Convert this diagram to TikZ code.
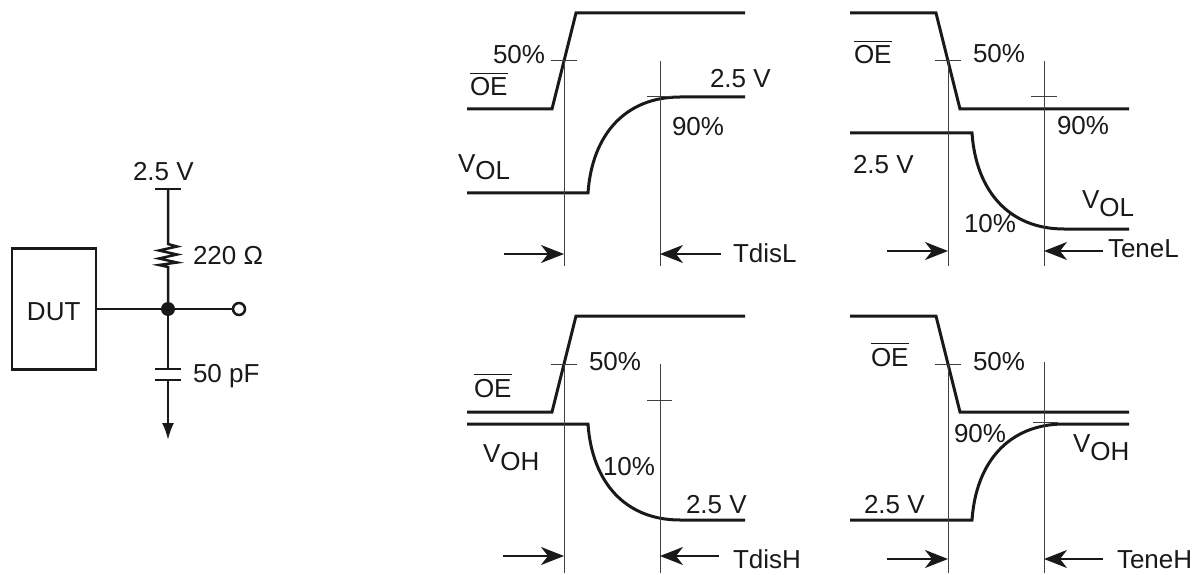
\documentclass[tikz,border=0pt]{standalone}
\usepackage{fontspec}
\setmainfont{Liberation Sans}
\usetikzlibrary{arrows.meta}
\newcommand{\oebar}{\vbox{\hrule height 1.2pt\kern 4pt\hbox{OE}}}
\tikzset{
	wave/.style={line width=3pt,line join=miter,color=black!90},
	wire/.style={line width=2.5pt,color=black!90},
	guide/.style={line width=1pt,color=black!75},
	dimarrow/.style={line width=2pt,color=black!90,-{Stealth[length=23pt,width=18pt,inset=7pt]}},
	lbl/.style={anchor=base west,inner sep=0pt,outer sep=0pt,text=black!90,font=\fontsize{26}{30}\selectfont},
	dutbox/.style={draw=black!90,line width=2.5pt,minimum width=84pt,minimum height=121pt,inner sep=0pt,outer sep=0pt},
	junction/.style={circle,fill=black!90,minimum size=14pt,inner sep=0pt,outer sep=0pt},
	pin/.style={circle,draw=black!90,line width=2.5pt,fill=white,minimum size=12pt,inner sep=0pt,outer sep=0pt}
}
\begin{document}
\begin{tikzpicture}[x=1pt,y=-1pt]
	\useasboundingbox (0,0) rectangle (1200,575);
	\node [dutbox] (dut) at (54,309) {};
	\node [lbl] (dutlabel) at (27,320) {DUT};
	\node [junction] (node) at (168,309) {};
	\node [pin] (out) at (239,309) {};
	\coordinate (vcc) at (168,189);
	\coordinate (vccl) at (155,189);
	\coordinate (vccr) at (181,189);
	\coordinate (rtop) at (168,244);
	\coordinate (rbot) at (168,267);
	\coordinate (ctop) at (168,369);
	\coordinate (cbot) at (168,380);
	\coordinate (gnd) at (168,440);
	\draw [wire] (dut) -- (node);
	\draw [wire] (node) -- (out);
	\draw [wire] (vccl) -- (vccr);
	\draw [wire] (vcc) -- (rtop) -- (177,246.5) -- (159,250.5) -- (177,254.5) -- (159,258.5) -- (177,262.5) -- (159,265) -- (rbot) -- (node);
	\draw [wire] (node) -- (ctop);
	\draw [wire] (155,369) -- (181,369);
	\draw [wire] (155,380) -- (181,380);
	\draw [wire,-{Latex[length=17pt,width=12pt]}] (cbot) -- (gnd);
	\node [lbl] (vcclabel) at (133,181) {2.5 V};
	\node [lbl] (rlabel) at (193,264) {220 Ω};
	\node [lbl] (clabel) at (193,382) {50 pF};

	\draw [wave] (467,109) -- (552,109) -- (576,13) -- (745,13);
	\draw [wave] (467,193) -- (588,193) .. controls (592,135) and (625,97) .. (680,97) -- (745,97);
	\draw [guide] (564,61) -- (564,266);
	\draw [guide] (660,61) -- (660,266);
	\draw [guide] (551,61) -- (577,61);
	\draw [guide] (647,97) -- (672,97);
	\coordinate (a1s) at (504,254);
	\coordinate (a1e) at (564,254);
	\coordinate (b1s) at (721,254);
	\coordinate (b1e) at (660,254);
	\draw [dimarrow] (a1s) -- (a1e);
	\draw [dimarrow] (b1s) -- (b1e);
	\node [lbl] (pct1a) at (493,64) {50\%};
	\node [lbl] (oe1) at (470,96) {\oebar};
	\node [lbl] (high1) at (710,88) {2.5 V};
	\node [lbl] (pct1b) at (672,136) {90\%};
	\node [lbl] (vol1) at (458,172) {V\raisebox{-8pt}{OL}};
	\node [lbl] (tdisl) at (733,262) {TdisL};

	\draw [wave] (850,13) -- (936,13) -- (960,109) -- (1129,109);
	\draw [wave] (850,133) -- (972,133) .. controls (976,191) and (1009,229) .. (1064,229) -- (1129,229);
	\draw [guide] (948,61) -- (948,266);
	\draw [guide] (1044,61) -- (1044,266);
	\draw [guide] (935,61) -- (961,61);
	\draw [guide] (1031,97) -- (1057,97);
	\coordinate (a2s) at (887,251);
	\coordinate (a2e) at (948,251);
	\coordinate (b2s) at (1103,251);
	\coordinate (b2e) at (1044,251);
	\draw [dimarrow] (a2s) -- (a2e);
	\draw [dimarrow] (b2s) -- (b2e);
	\node [lbl] (oe2) at (854,64) {\oebar};
	\node [lbl] (pct2a) at (973,63) {50\%};
	\node [lbl] (pct2b) at (1057,135) {90\%};
	\node [lbl] (high2) at (853,174) {2.5 V};
	\node [lbl] (pct2c) at (964,232) {10\%};
	\node [lbl] (vol2) at (1082,208) {V\raisebox{-8pt}{OL}};
	\node [lbl] (tenel) at (1108,257) {TeneL};

	\draw [wave] (467,412) -- (552,412) -- (576,316) -- (745,316);
	\draw [wave] (467,424) -- (588,424) .. controls (592,482) and (625,520) .. (680,520) -- (745,520);
	\draw [guide] (564,364) -- (564,573);
	\draw [guide] (660,364) -- (660,573);
	\draw [guide] (551,364) -- (577,364);
	\draw [guide] (647,400) -- (672,400);
	\coordinate (a3s) at (503,556);
	\coordinate (a3e) at (564,556);
	\coordinate (b3s) at (719,556);
	\coordinate (b3e) at (660,556);
	\draw [dimarrow] (a3s) -- (a3e);
	\draw [dimarrow] (b3s) -- (b3e);
	\node [lbl] (pct3a) at (589,370) {50\%};
	\node [lbl] (oe3) at (474,397) {\oebar};
	\node [lbl] (voh3) at (483,462) {V\raisebox{-8pt}{OH}};
	\node [lbl] (pct3b) at (603,475) {10\%};
	\node [lbl] (high3) at (686,513) {2.5 V};
	\node [lbl] (tdish) at (733,568) {TdisH};

	\draw [wave] (850,316) -- (936,316) -- (960,412) -- (1129,412);
	\draw [wave] (850,520) -- (972,520) .. controls (976,462) and (1009,424) .. (1064,424) -- (1129,424);
	\draw [guide] (948,364) -- (948,573);
	\draw [guide] (1044,362) -- (1044,573);
	\draw [guide] (935,364) -- (961,364);
	\draw [guide] (1033,422) -- (1058,422);
	\coordinate (a4s) at (887,559);
	\coordinate (a4e) at (948,559);
	\coordinate (b4s) at (1103,559);
	\coordinate (b4e) at (1044,559);
	\draw [dimarrow] (a4s) -- (a4e);
	\draw [dimarrow] (b4s) -- (b4e);
	\node [lbl] (oe4) at (871,366) {\oebar};
	\node [lbl] (pct4a) at (973,370) {50\%};
	\node [lbl] (pct4b) at (954,442) {90\%};
	\node [lbl] (voh4) at (1073,452) {V\raisebox{-8pt}{OH}};
	\node [lbl] (high4) at (864,513) {2.5 V};
	\node [lbl] (teneh) at (1117,568) {TeneH};
\end{tikzpicture}
\end{document}
